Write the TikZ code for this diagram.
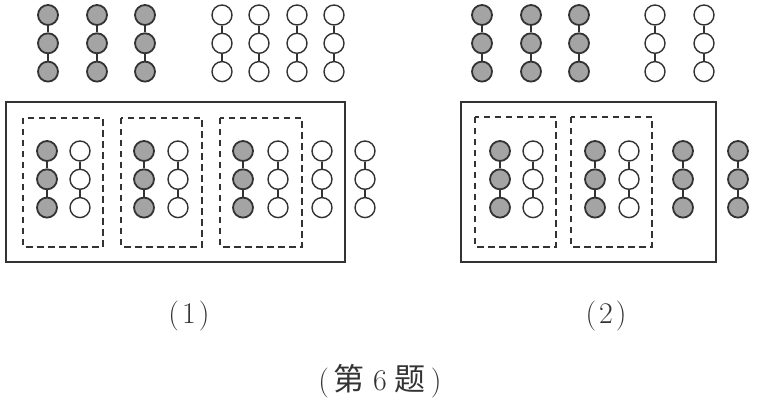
\documentclass[tikz,border=0pt]{standalone}
\usepackage{fontspec}
\usepackage{tikz}
\usetikzlibrary{positioning}
\newfontfamily\cjk{Noto Sans CJK SC}
\newcommand{\bigcjk}{\cjk\fontsize{31}{36}\selectfont}
\definecolor{Bead}{HTML}{A4A4A4}
\definecolor{Ink}{HTML}{333333}

\tikzset{
  bead/.style={circle,draw=Ink,line width=1.4pt,minimum size=20pt,inner sep=0pt},
  dark/.style={bead,fill=Bead,line width=1.8pt},
  light/.style={bead,fill=white},
  frame/.style={draw=Ink,line width=1.7pt},
  dbox/.style={draw=Ink,line width=1.3pt,dash pattern=on 6.5pt off 4.5pt},
  stick/.style={draw=Ink,line width=1.8pt},
  caption/.style={font=\fontsize{30}{36}\selectfont,text=Ink,inner sep=0pt}
}
% one column of three beads: name, x, top y, style
\newcommand{\beads}[4]{%
  \node[#4] (#1a) at (#2,#3) {};
  \node[#4] (#1b) at (#2,#3+28.3) {};
  \node[#4] (#1c) at (#2,#3+56.6) {};
  \draw[stick] (#1a)--(#1b) (#1b)--(#1c);}

\begin{document}
\begin{tikzpicture}[x=1pt,y=-1pt]
  \useasboundingbox (0,0) rectangle (757,403);
  % (1) top row
  \foreach \x [count=\i] in {48,97,145} {\beads{pa\i}{\x}{15}{dark}}
  \foreach \x [count=\i] in {222,259,297,334} {\beads{pb\i}{\x}{15}{light}}
  % (1) box
  \draw[frame] (6,102) rectangle (345,262);
  \draw[dbox] (23,118) rectangle (103,247);
  \draw[dbox] (121,118) rectangle (202,247);
  \draw[dbox] (220,118) rectangle (302,247);
  \foreach \x [count=\i] in {47,144,243} {\beads{qa\i}{\x}{151}{dark}}
  \foreach \x [count=\i] in {80,178,278,322,365} {\beads{qb\i}{\x}{151}{light}}
  % (2) top row
  \foreach \x [count=\i] in {482,531,579} {\beads{ra\i}{\x}{15}{dark}}
  \foreach \x [count=\i] in {655,704} {\beads{rb\i}{\x}{15}{light}}
  % (2) box
  \draw[frame] (461,102) rectangle (716,262);
  \draw[dbox] (475,117) rectangle (556,247);
  \draw[dbox] (571,117) rectangle (652,247);
  \foreach \x [count=\i] in {500,595,683,738} {\beads{sa\i}{\x}{151}{dark}}
  \foreach \x [count=\i] in {533,629} {\beads{sb\i}{\x}{151}{light}}
  % captions
  \node[caption] (cap1) at (189,316) {(\hspace{3pt}1\hspace{3pt})};
  \node[caption] (cap2) at (606,316) {(\hspace{3pt}2\hspace{3pt})};
  \node[caption] (capall) at (380,381) {(\hspace{4pt}{\bigcjk 第}\hspace{9pt}6\hspace{8pt}{\bigcjk 题}\hspace{5pt})};
\end{tikzpicture}
\end{document}
